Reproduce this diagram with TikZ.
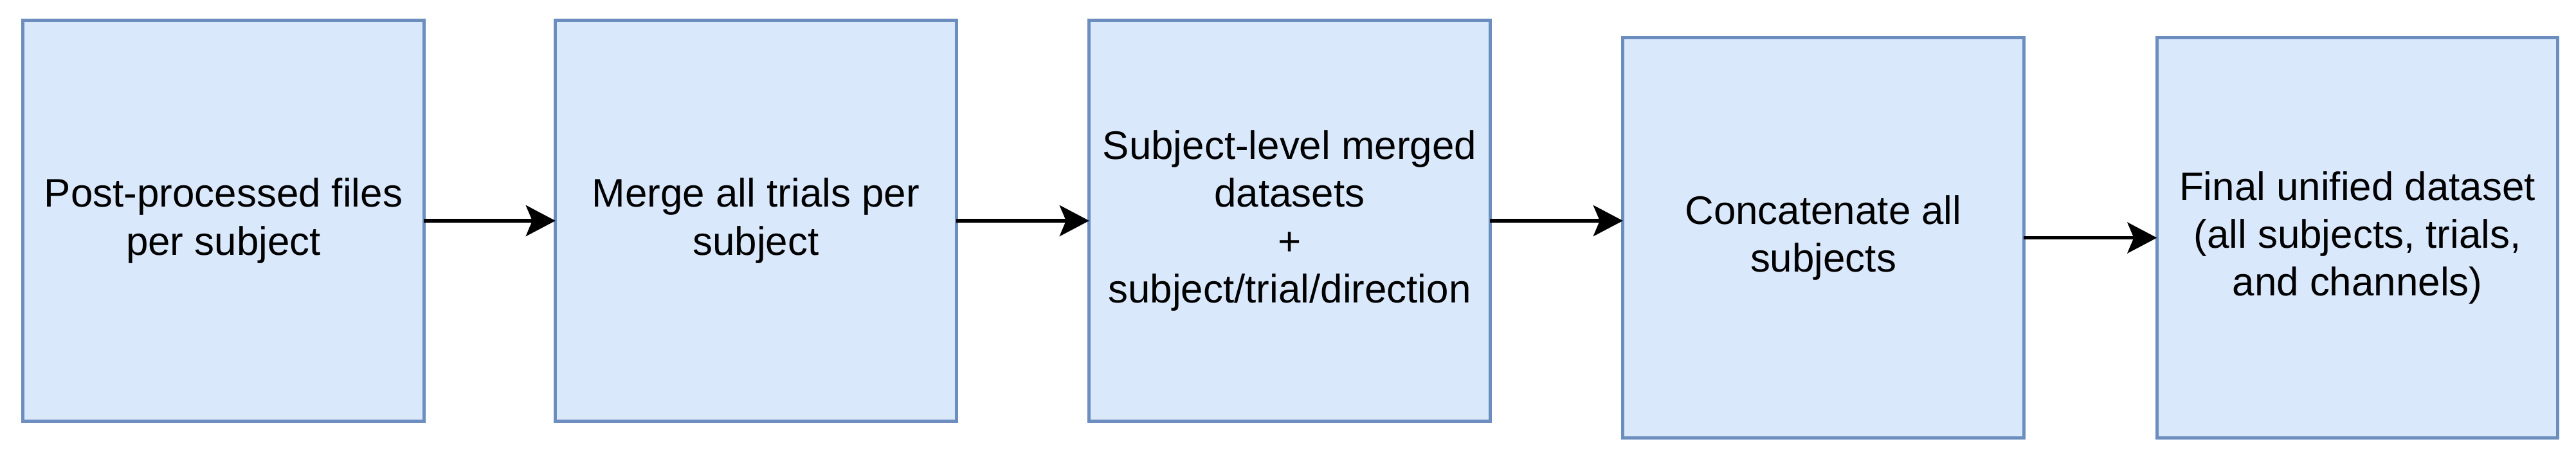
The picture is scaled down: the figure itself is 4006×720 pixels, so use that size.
\documentclass[tikz,border=0pt]{standalone}
\usepackage{fontspec}
\setmainfont{Liberation Sans}
\usetikzlibrary{arrows.meta}
\definecolor{boxfill}{HTML}{DAE8FC}
\definecolor{boxline}{HTML}{6C8EBF}
\tikzset{
  stagebox/.style={draw=boxline, fill=boxfill, line width=0.052cm, rectangle,
    minimum width=6.23cm, minimum height=6.22cm, inner sep=0pt, outer sep=0pt,
    align=center, text=black, font=\fontsize{17.6pt}{21.1pt}\selectfont},
  flow/.style={draw=black, line width=0.052cm,
    -{Stealth[length=0.46cm, width=0.48cm, inset=0.1cm]}}
}
\begin{document}
\begin{tikzpicture}[x=0.01cm, y=-0.01cm]
\useasboundingbox (0,0) rectangle (4006,720);
\node[stagebox] (b1) at (347.5,343) {Post-processed files\\per subject};
\node[stagebox] (b2) at (1175.5,343) {Merge all trials per\\subject};
\node[stagebox] (b3) at (2005.5,343) {Subject-level merged\\datasets\\+\\subject/trial/direction};
\node[stagebox] (b4) at (2835.5,369.5) {Concatenate all\\subjects};
\node[stagebox] (b5) at (3666,369.5) {Final unified dataset\\(all subjects, trials,\\and channels)};
\draw[flow] (b1) -- (b2);
\draw[flow] (b2) -- (b3);
\draw[flow] (b3.east) -- (b3.east -| b4.west);
\draw[flow] (b4) -- (b5);
\end{tikzpicture}
\end{document}
